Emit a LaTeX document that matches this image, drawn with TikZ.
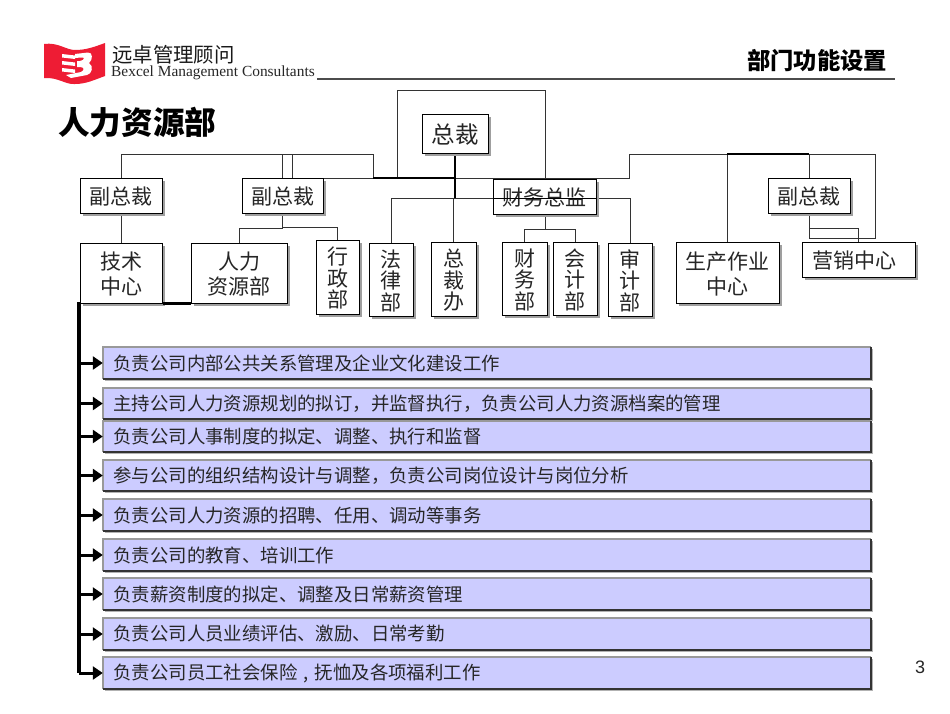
\documentclass[tikz,border=0pt]{standalone}
\usepackage{fontspec}
\setmainfont{Noto Sans CJK SC}
\newfontfamily\latinserif{Liberation Serif}
\newfontfamily\latinsans{Liberation Sans}
\usetikzlibrary{arrows.meta,calc}
\definecolor{taskfill}{HTML}{CCCCFF}
\definecolor{wire}{HTML}{333333}
\definecolor{logored}{HTML}{EE1C34}
\tikzset{
  orgbox/.style={draw=black,line width=1pt,fill=white,inner sep=0pt},
  orgtext/.style={inner sep=0pt,align=center,yshift=-1.2pt,font=\fontsize{21}{25}\selectfont,text=black!85},
  orgtall/.style={orgtext,font=\fontsize{21}{21.5}\selectfont},
  wireline/.style={draw=wire,line width=1pt},
  busline/.style={draw=black,line width=2pt},
  heavy/.style={draw=black,line width=3.4pt},
  taskbox/.style={fill=taskfill,inner sep=0pt,font=\fontsize{18.4}{20}\selectfont,text=black!85,text width=757pt,align=left},
  taskarrow/.style={draw=black,line width=3pt,-{Triangle[length=10pt,width=13pt]}},
}
% name, x1, y1, x2, y2, text style, text
\newcommand{\orgnode}[7]{%
  \fill[gray!75] (#2+2.5,#3+2.5) rectangle (#4+2.5,#5+2.5);
  \node[orgbox,minimum width=#4-#2,minimum height=#5-#3] (#1) at ({(#2+#4)/2},{(#3+#5)/2}) {};
  \node[#6] (#1text) at (#1.center) {#7};}
% name, y1, y2, text
\newcommand{\tasknode}[4]{%
  \fill[gray!60] (105,#2+2) rectangle (873,#3+2);
  \node[taskbox,minimum width=768pt,minimum height=#3-#2] (#1) at (487,{(#2+#3)/2}) {\hspace*{5pt}\raisebox{-1.5pt}{#4}};
  \draw[gray!80,line width=1.4pt] (#1.south west) -- (#1.north west) -- (#1.north east);
  \draw[black!80,line width=1.6pt] (#1.north east) -- (#1.south east) -- (#1.south west);}
\begin{document}
\begin{tikzpicture}[x=1pt,y=-1pt]
\useasboundingbox (0,0) rectangle (950,713);
\fill[white] (0,0) rectangle (950,713);

% logo
\fill[logored] (44,44) .. controls (58,42) and (66,50) .. (75,50) .. controls (86,50) and (94,47) .. (105,43)
  -- (105,76) .. controls (94,80) and (86,84) .. (75,84) .. controls (66,85) and (58,77) .. (44,78) -- cycle;
\foreach \yy in {54,61,68}{\fill[white] (62,\yy) -- (75,\yy+1.5) -- (75,\yy+5) -- (62,\yy+3.5) -- cycle;}
\fill[white] (75,54) -- (88,52.5) .. controls (93,52) and (93,60) .. (89,63) .. controls (94,66) and (92,74) .. (87,75) -- (71,78) -- (66,75) -- (81,72) .. controls (85,70) and (84,67) .. (80,67) -- (77,67) -- (77,61) -- (80,61) .. controls (85,60) and (85,57) .. (81,57.5) -- (75,58) -- cycle;
\node[inner sep=0pt,anchor=west,font=\fontsize{20.4}{22}\selectfont,text=black!90] (logocn) at (112,55) {远卓管理顾问};
\node[inner sep=0pt,anchor=west,font=\latinserif\fontsize{15.4}{16}\selectfont,text=black!85] (logoen) at (111,73) {Bexcel Management Consultants};
\coordinate (rulea) at (317,79);
\coordinate (ruleb) at (895,79);
\draw[black!70,line width=1.6pt] (rulea) -- (ruleb);
\node[inner sep=0pt,font=\fontsize{23.3}{25}\selectfont\bfseries] (section) at (817,61) {部门功能设置};
\node[inner sep=0pt,anchor=west,font=\fontsize{31.6}{34}\selectfont\bfseries] (title) at (58,122) {人力资源部};

% bus junctions
\coordinate (busL) at (292,178);
\coordinate (busM) at (455,178);
\coordinate (busR) at (629,178);
\coordinate (loopbusA) at (397,178);
\coordinate (loopbusB) at (545,178);
\coordinate (loopbusC) at (373,178);
\coordinate (jun) at (455,198);

% connectors behind the boxes
\draw[wireline] (121,178) -- (121,154) -- (373,154) -- (loopbusC);
\draw[wireline] (282,178) -- (282,154);
\draw[wireline] (busL) -- (292,154);
\draw[wireline] (loopbusA) -- (397,90) -- (545,90) -- (loopbusB);
\draw[wireline] (busL) -- (busR) -- (629,154) -- (875,154) -- (875,238) -- (809,238);
\draw[wireline] (121,213) -- (121,243);
\draw[wireline] (282,213) -- (282,228) -- (239,228) -- (239,243);
\draw[wireline] (282,227) -- (337,227) -- (337,240);
\draw[wireline] (545,214) -- (545,229) -- (524,229) -- (524,243);
\draw[wireline] (545,229) -- (575,229) -- (575,243);
\draw[wireline] (391,243) -- (391,198) -- (630,198) -- (630,243);
\draw[wireline] (453,198) -- (453,243);
\draw[wireline] (727,154) -- (727,243);
\draw[wireline] (809,154) -- (809,178);
\draw[wireline] (809,213) -- (809,238);
\draw[wireline] (809,228) -- (858,228) -- (858,242);
\draw[black,line width=1.6pt] (373,178) -- (busM);
\draw[black,line width=1.6pt] (727,154) -- (809,154);
\draw[busline] (455,153) -- (jun);

% organisation boxes
\orgnode{ceo}{422}{114}{488}{153}{orgtext,font=\fontsize{23.5}{25}\selectfont}{总裁}
\orgnode{vpa}{80}{178}{162}{213}{orgtext}{副总裁}
\orgnode{vpb}{242}{178}{323}{213}{orgtext}{副总裁}
\orgnode{cfo}{493}{179}{596}{214}{orgtext}{财务总监}
\orgnode{vpc}{768}{178}{850}{213}{orgtext}{副总裁}
\orgnode{tech}{80}{243}{162}{303}{orgtext}{技术\\中心}
\orgnode{hr}{191}{243}{287}{303}{orgtext}{人力\\资源部}
\orgnode{admin}{316}{240}{359}{314}{orgtall}{行\\政\\部}
\orgnode{legal}{369}{243}{413}{316}{orgtall}{法\\律\\部}
\orgnode{office}{431}{242}{476}{316}{orgtall}{总\\裁\\办}
\orgnode{fin}{502}{242}{547}{315}{orgtall}{财\\务\\部}
\orgnode{acct}{553}{242}{597}{315}{orgtall}{会\\计\\部}
\orgnode{audit}{608}{243}{652}{316}{orgtall}{审\\计\\部}
\orgnode{prod}{676}{242}{779}{303}{orgtext}{生产作业\\中心}
\orgnode{sales}{802}{242}{915}{277}{orgtext}{营销中心\hspace*{8pt}}

% line crossing the CFO box
\draw[black,line width=1pt] (493,198) -- (596,198);

% task boxes
\tasknode{t1}{347}{379}{负责公司内部公共关系管理及企业文化建设工作}
\tasknode{t2}{388}{419}{主持公司人力资源规划的拟订，并监督执行，负责公司人力资源档案的管理}
\tasknode{t3}{421}{452}{负责公司人事制度的拟定、调整、执行和监督}
\tasknode{t4}{460}{491}{参与公司的组织结构设计与调整，负责公司岗位设计与岗位分析}
\tasknode{t5}{499}{531}{负责公司人力资源的招聘、任用、调动等事务}
\tasknode{t6}{539}{571}{负责公司的教育、培训工作}
\tasknode{t7}{578}{610}{负责薪资制度的拟定、调整及日常薪资管理}
\tasknode{t8}{618}{650}{负责公司人员业绩评估、激励、日常考勤}
\tasknode{t9}{657}{689}{负责公司员工社会保险 , 抚恤及各项福利工作}

% heavy trunk and arrows
\coordinate (trunktop) at (79,301.5);
\coordinate (trunkbot) at (79,673);
\draw[heavy] (tech.south east) -- (hr.south west);
\draw[heavy,line cap=butt] (trunktop) -- (trunkbot);
\foreach \n in {1,...,9}{\draw[taskarrow] (79,0 |- t\n.west) -- (t\n.west);}
\node[inner sep=0pt,font=\latinsans\fontsize{18}{20}\selectfont,text=black!85] (pageno) at (920,667) {3};
\end{tikzpicture}
\end{document}
